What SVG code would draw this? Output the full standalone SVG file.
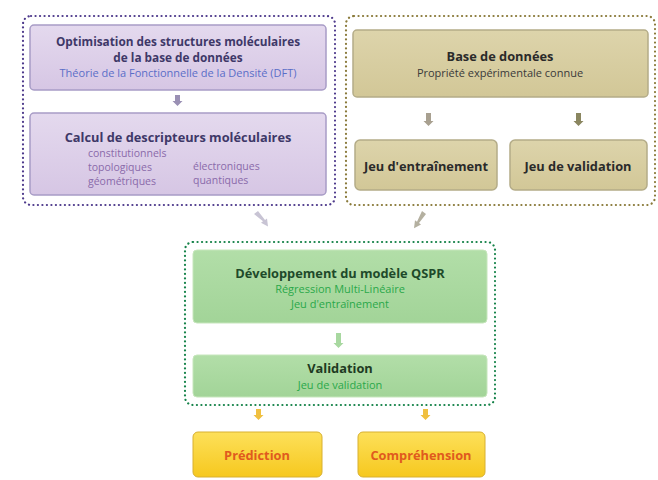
<svg xmlns="http://www.w3.org/2000/svg" width="658" height="480" viewBox="0 0 658 480">
<defs>
<linearGradient id="gp" x1="0" y1="0" x2="0" y2="1"><stop offset="0" stop-color="#e4d9ee"/><stop offset="1" stop-color="#d6c6e4"/></linearGradient>
<linearGradient id="gb" x1="0" y1="0" x2="0" y2="1"><stop offset="0" stop-color="#ddd4ab"/><stop offset="1" stop-color="#d2c797"/></linearGradient>
<linearGradient id="gg" x1="0" y1="0" x2="0" y2="1"><stop offset="0" stop-color="#b2dea8"/><stop offset="1" stop-color="#a2d498"/></linearGradient>
<linearGradient id="gy" x1="0" y1="0" x2="0" y2="1"><stop offset="0" stop-color="#fde05a"/><stop offset="1" stop-color="#f6c81e"/></linearGradient>
</defs>
<style>
text{font-family:"Open Sans","Liberation Sans",sans-serif;text-anchor:middle}
.t{font-weight:bold;font-size:12.8px}
.t1{font-weight:bold;font-size:11.8px}
.s{font-size:11px}
.d{font-size:10.5px;text-anchor:start}
.dot{fill:none;stroke-width:2.2;stroke-dasharray:0.1 4.4;stroke-linecap:round}
</style>
<rect width="658" height="480" fill="#ffffff"/>
<g id="containers">
<rect class="dot" x="23" y="16" width="312" height="189" rx="8" stroke="#4e3a8c"/>
<rect class="dot" x="346" y="16" width="309" height="189" rx="8" stroke="#8a7a3a"/>
<rect class="dot" x="185" y="242" width="310" height="163" rx="8" stroke="#16834a"/>
</g>
<g id="connectors">
<path d="M175 95h5v6h2.5l-5 5l-5-5h2.5z" fill="#9a90b4"/>
<path d="M426 113h5v8h2.5l-5 5l-5-5h2.5z" fill="#a8a090"/>
<path d="M576 113h5v8h2.5l-5 5l-5-5h2.5z" fill="#8a8660"/>
<path d="M254 214l4-3l7 9l2-1.6l1 8l-7-3.6l2-1.6z" fill="#c8c4d4"/>
<path d="M422 211l4 3l-7 9l2 1.6l-7 3.6l1-8l2 1.6z" fill="#b4b0a0"/>
<path d="M336 333h5v10h2.5l-5 5l-5-5h2.5z" fill="#a8d8a0"/>
<path d="M256 409h5v6h2.5l-5 5l-5-5h2.5z" fill="#f0c040"/>
<path d="M423 409h5v6h2.5l-5 5l-5-5h2.5z" fill="#f0c040"/>
</g>
<g id="opt">
<rect x="30" y="25" width="296" height="65" rx="4" fill="url(#gp)" stroke="#a89cc6" stroke-width="1.5"/>
<text class="t1" x="178" y="46" fill="#3e3868">Optimisation des structures moléculaires</text>
<text class="t1" x="178" y="62" fill="#3e3868">de la base de données</text>
<text class="s" x="178" y="77" fill="#5a6ec8">Théorie de la Fonctionnelle de la Densité (DFT)</text>
</g>
<g id="calc">
<rect x="30" y="113" width="296" height="82" rx="4" fill="url(#gp)" stroke="#a89cc6" stroke-width="1.5"/>
<text class="t" x="178" y="142" fill="#3e3868">Calcul de descripteurs moléculaires</text>
<text class="d" x="88" y="157" fill="#8a6aaa">constitutionnels</text>
<text class="d" x="88" y="171" fill="#8a6aaa">topologiques</text>
<text class="d" x="88" y="185" fill="#8a6aaa">géométriques</text>
<text class="d" x="193" y="170" fill="#8a6aaa">électroniques</text>
<text class="d" x="193" y="184" fill="#8a6aaa">quantiques</text>
</g>
<g id="base">
<rect x="353" y="30" width="295" height="67" rx="4" fill="url(#gb)" stroke="#b4ac88" stroke-width="1.5"/>
<text class="t" x="500" y="61" fill="#2a2a2a">Base de données</text>
<text class="s" x="500" y="77" fill="#3a3a3a">Propriété expérimentale connue</text>
</g>
<g id="entr">
<rect x="355" y="140" width="142" height="50" rx="5" fill="url(#gb)" stroke="#b4ac88" stroke-width="1.5"/>
<text class="t" x="426" y="171" fill="#2a2a2a">Jeu d'entraînement</text>
</g>
<g id="valset">
<rect x="510" y="140" width="137" height="50" rx="5" fill="url(#gb)" stroke="#b4ac88" stroke-width="1.5"/>
<text class="t" x="578" y="171" fill="#2a2a2a">Jeu de validation</text>
</g>
<g id="dev">
<rect x="193" y="250" width="294" height="73" rx="4" fill="url(#gg)" stroke="#c6e6bc" stroke-width="1"/>
<text class="t" x="340" y="278" fill="#1e4a2a">Développement du modèle QSPR</text>
<text class="s" x="340" y="293" fill="#2aa84a">Régression Multi-Linéaire</text>
<text class="s" x="340" y="308" fill="#2aa84a">Jeu d'entraînement</text>
</g>
<g id="valid">
<rect x="193" y="355" width="294" height="42" rx="4" fill="url(#gg)" stroke="#c6e6bc" stroke-width="1"/>
<text class="t" x="340" y="373" fill="#1e3a22">Validation</text>
<text class="s" x="340" y="389" fill="#2aa84a">Jeu de validation</text>
</g>
<g id="pred">
<rect x="193" y="432" width="129" height="45" rx="5" fill="url(#gy)" stroke="#d8b030" stroke-width="1"/>
<text class="t" x="257" y="460" fill="#e05a1e">Prédiction</text>
</g>
<g id="comp">
<rect x="358" y="432" width="127" height="45" rx="5" fill="url(#gy)" stroke="#d8b030" stroke-width="1"/>
<text class="t" x="421" y="460" fill="#e05a1e">Compréhension</text>
</g>
</svg>
